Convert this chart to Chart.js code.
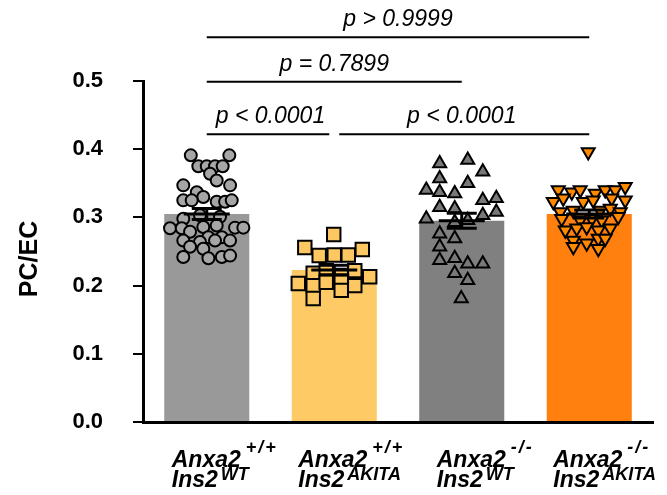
<!DOCTYPE html>
<html lang="en">
<head>
<meta charset="UTF-8">
<title>PC/EC</title>
<script src="https://cdn.jsdelivr.net/npm/chart.js"></script>
<style>
  body { margin: 0; background: #fff; }
  #wrap { width: 667px; height: 495px; }
</style>
</head>
<body>
<div id="wrap"><canvas id="chart" width="667" height="495"></canvas></div>
<script>
// genotype labels: main text + superscript, two lines each
const anxaSup = ['+/+', '+/+', '-/-', '-/-'];
const insSup = ['WT', 'AKITA', 'WT', 'AKITA'];

// group means (bar heights) and SEM
const means = [0.305, 0.223, 0.295, 0.305];
const sems = [0.008, 0.007, 0.011, 0.006];

// individual animals: value and horizontal scatter (category units)
const wtWtVals = [0.391, 0.391, 0.375, 0.375, 0.375, 0.375, 0.364, 0.354, 0.347, 0.347,
  0.337, 0.330, 0.325, 0.325, 0.323, 0.323, 0.325, 0.298, 0.303, 0.301,
  0.284, 0.284, 0.286, 0.288, 0.285, 0.285, 0.279, 0.271, 0.271, 0.266,
  0.264, 0.266, 0.266, 0.257, 0.254, 0.242, 0.240, 0.242, 0.244];
const wtWtJit = [-0.125, 0.177, -0.066, 0, 0.065, 0.125, 0.026, 0.078, -0.184, 0.183,
  -0.078, -0.027, -0.184, -0.118, 0.078, 0.144, 0.196, -0.184, -0.053, 0.104,
  -0.288, -0.196, -0.027, 0.078, 0.222, 0.287, -0.131, 0.013, 0.118, -0.184,
  -0.053, 0.065, 0.183, -0.131, -0.027, -0.184, 0.013, 0.118, 0.183];

const wtAkVals = [0.275, 0.256, 0.253, 0.244, 0.245, 0.245, 0.218, 0.222, 0.215, 0.222,
  0.213, 0.203, 0.200, 0.205, 0.205, 0.200, 0.193, 0.181];
const wtAkJit = [-0.004, -0.231, 0.220, -0.118, 0, 0.110, -0.165, -0.063, 0.055, 0.161,
  0.278, -0.282, -0.165, -0.063, 0.055, 0.161, 0.055, -0.165];

const koWtVals = [0.379, 0.384, 0.367, 0.357, 0.350, 0.340, 0.337, 0.335, 0.325, 0.328,
  0.315, 0.313, 0.308, 0.303, 0.298, 0.296, 0.293, 0.276, 0.269, 0.257,
  0.237, 0.240, 0.232, 0.232, 0.218, 0.208, 0.181];
const koWtJit = [-0.173, 0.047, 0.165, -0.173, 0.047, -0.278, -0.173, -0.055, 0.165, 0.271,
  -0.173, -0.055, 0.271, 0.165, -0.278, 0.047, -0.055, -0.173, -0.055, -0.173,
  -0.173, -0.055, 0.047, 0.165, -0.055, 0.047, -0.004];

const koAkVals = [0.396, 0.340, 0.337, 0.340, 0.335, 0.340, 0.340, 0.345, 0.323, 0.328,
  0.323, 0.325, 0.328, 0.325, 0.308, 0.310, 0.310, 0.313, 0.308, 0.298,
  0.296, 0.298, 0.296, 0.301, 0.281, 0.284, 0.286, 0.281, 0.284, 0.266,
  0.262, 0.269, 0.269, 0.257, 0.254];
const koAkJit = [-0.008, -0.243, -0.137, -0.071, 0.047, 0.125, 0.204, 0.282, -0.282, -0.204,
  -0.047, 0.031, 0.176, 0.282, -0.227, -0.125, 0.086, 0.165, 0.243, -0.216,
  -0.071, 0.020, 0.098, 0.227, -0.188, -0.098, -0.020, 0.071, 0.165, -0.125,
  -0.020, 0.071, 0.125, -0.125, 0.071];

// multiple comparisons
const pFrom = [0, 0, 0, 1];
const pTo = [3, 2, 1, 3];
const pLevel = [0.564, 0.499, 0.422, 0.422];
const pText = ['p > 0.9999', 'p = 0.7899', 'p < 0.0001', 'p < 0.0001'];

const FONT = 'Arial, "Liberation Sans", sans-serif';
const barColors = ['#999999', '#fdca66', '#808080', '#ff800e'];
const labelShift = [-35, -36, -25, -36];

function pts(i, vals, jit) {
  return vals.map((v, k) => ({ x: i + jit[k], y: v }));
}

function dots(data, style, radius, fill, rotation) {
  return {
    type: 'scatter', data: data,
    pointStyle: style, pointRadius: radius, pointRotation: rotation || 0,
    backgroundColor: fill, borderColor: '#000', borderWidth: 2, order: 1
  };
}

const overlay = {
  id: 'overlay',
  afterDatasetsDraw(chart) {
    const { ctx, scales: { x, y } } = chart;
    ctx.save();
    ctx.strokeStyle = '#000';
    ctx.lineWidth = 3;
    means.forEach((m, i) => {
      const cx = x.getPixelForValue(i);
      const ym = y.getPixelForValue(m);
      const yh = y.getPixelForValue(m + sems[i]);
      const yl = y.getPixelForValue(m - sems[i]);
      ctx.beginPath();
      ctx.moveTo(cx - 23, ym); ctx.lineTo(cx + 23, ym);
      ctx.moveTo(cx - 15, yh); ctx.lineTo(cx + 15, yh);
      ctx.moveTo(cx - 15, yl); ctx.lineTo(cx + 15, yl);
      ctx.moveTo(cx, yh); ctx.lineTo(cx, yl);
      ctx.stroke();
    });
    ctx.restore();
  },
  afterDraw(chart) {
    const { ctx, scales: { x, y } } = chart;
    ctx.save();
    ctx.fillStyle = '#000';
    ctx.strokeStyle = '#000';

    // significance bars
    ctx.lineWidth = 2;
    ctx.font = 'italic 23px ' + FONT;
    ctx.textAlign = 'center';
    ctx.textBaseline = 'alphabetic';
    pText.forEach((t, k) => {
      const yy = y.getPixelForValue(pLevel[k]);
      const c1 = x.getPixelForValue(pFrom[k]);
      const c2 = x.getPixelForValue(pTo[k]);
      let x1 = c1, x2 = c2;
      // small gap where two bars meet on the same level
      pLevel.forEach((l, j) => {
        if (j === k || l !== pLevel[k]) return;
        if (pTo[j] === pFrom[k]) x1 += 5;
        if (pFrom[j] === pTo[k]) x2 -= 5;
      });
      ctx.beginPath();
      ctx.moveTo(x1, yy); ctx.lineTo(x2, yy);
      ctx.stroke();
      ctx.fillText(t, (c1 + c2) / 2, yy - 11);
    });

    // genotype labels
    ctx.textAlign = 'left';
    const base = chart.chartArea.bottom;
    anxaSup.forEach((s, i) => {
      const left = x.getPixelForValue(i) + labelShift[i];
      ctx.font = 'italic bold 23px ' + FONT;
      ctx.fillText('Anxa2', left, base + 45);
      const w1 = ctx.measureText('Anxa2').width;
      ctx.fillText('Ins2', left, base + 65);
      const w2 = ctx.measureText('Ins2').width;
      ctx.font = 'italic bold 18px ' + FONT;
      ctx.fillText(insSup[i], left + w2 + 3, base + 58);
      ctx.letterSpacing = '2px';
      ctx.fillText(s, left + w1 + 5, base + 31);
      ctx.letterSpacing = '0px';
    });

    // y title
    ctx.translate(30, 259);
    ctx.rotate(-Math.PI / 2);
    ctx.textAlign = 'center';
    ctx.textBaseline = 'middle';
    ctx.font = 'bold 25px ' + FONT;
    ctx.fillText('PC/EC', 0, 0);
    ctx.restore();
  }
};

new Chart(document.getElementById('chart'), {
  type: 'bar',
  data: {
    datasets: [
      dots(pts(0, wtWtVals, wtWtJit), 'circle', 6, '#a6a6a6'),
      dots(pts(1, wtAkVals, wtAkJit), 'rect', 9.5, '#fdc862'),
      dots(pts(2, koWtVals, koWtJit), 'triangle', 7.5, '#787878'),
      dots(pts(3, koAkVals, koAkJit), 'triangle', 7.5, '#ff8a00', 180),
      {
        type: 'bar', data: means.map((m, i) => ({ x: i, y: m })),
        backgroundColor: barColors, grouped: false,
        barPercentage: 0.667, categoryPercentage: 1, order: 5
      }
    ]
  },
  options: {
    responsive: false,
    animation: false,
    layout: { padding: { top: 81, right: 14, left: 0, bottom: 0 } },
    plugins: { legend: { display: false }, tooltip: { enabled: false } },
    scales: {
      x: {
        type: 'linear', min: -0.5, max: 3.5, offset: false,
        afterBuildTicks: s => { s.ticks = means.map((m, i) => ({ value: i })); },
        ticks: { display: false },
        grid: { display: false },
        border: { color: '#000', width: 3 },
        afterFit: s => { s.height = 73; }
      },
      y: {
        min: 0, max: 0.5,
        ticks: {
          stepSize: 0.1, color: '#000', padding: 30,
          font: { family: FONT, size: 22, weight: 'bold' },
          callback: v => v.toFixed(1)
        },
        grid: { drawOnChartArea: false, tickLength: 10, color: '#000', lineWidth: 2 },
        border: { color: '#000', width: 3 },
        afterFit: s => { s.width = 143; }
      }
    }
  },
  plugins: [overlay]
});
</script>
</body>
</html>
